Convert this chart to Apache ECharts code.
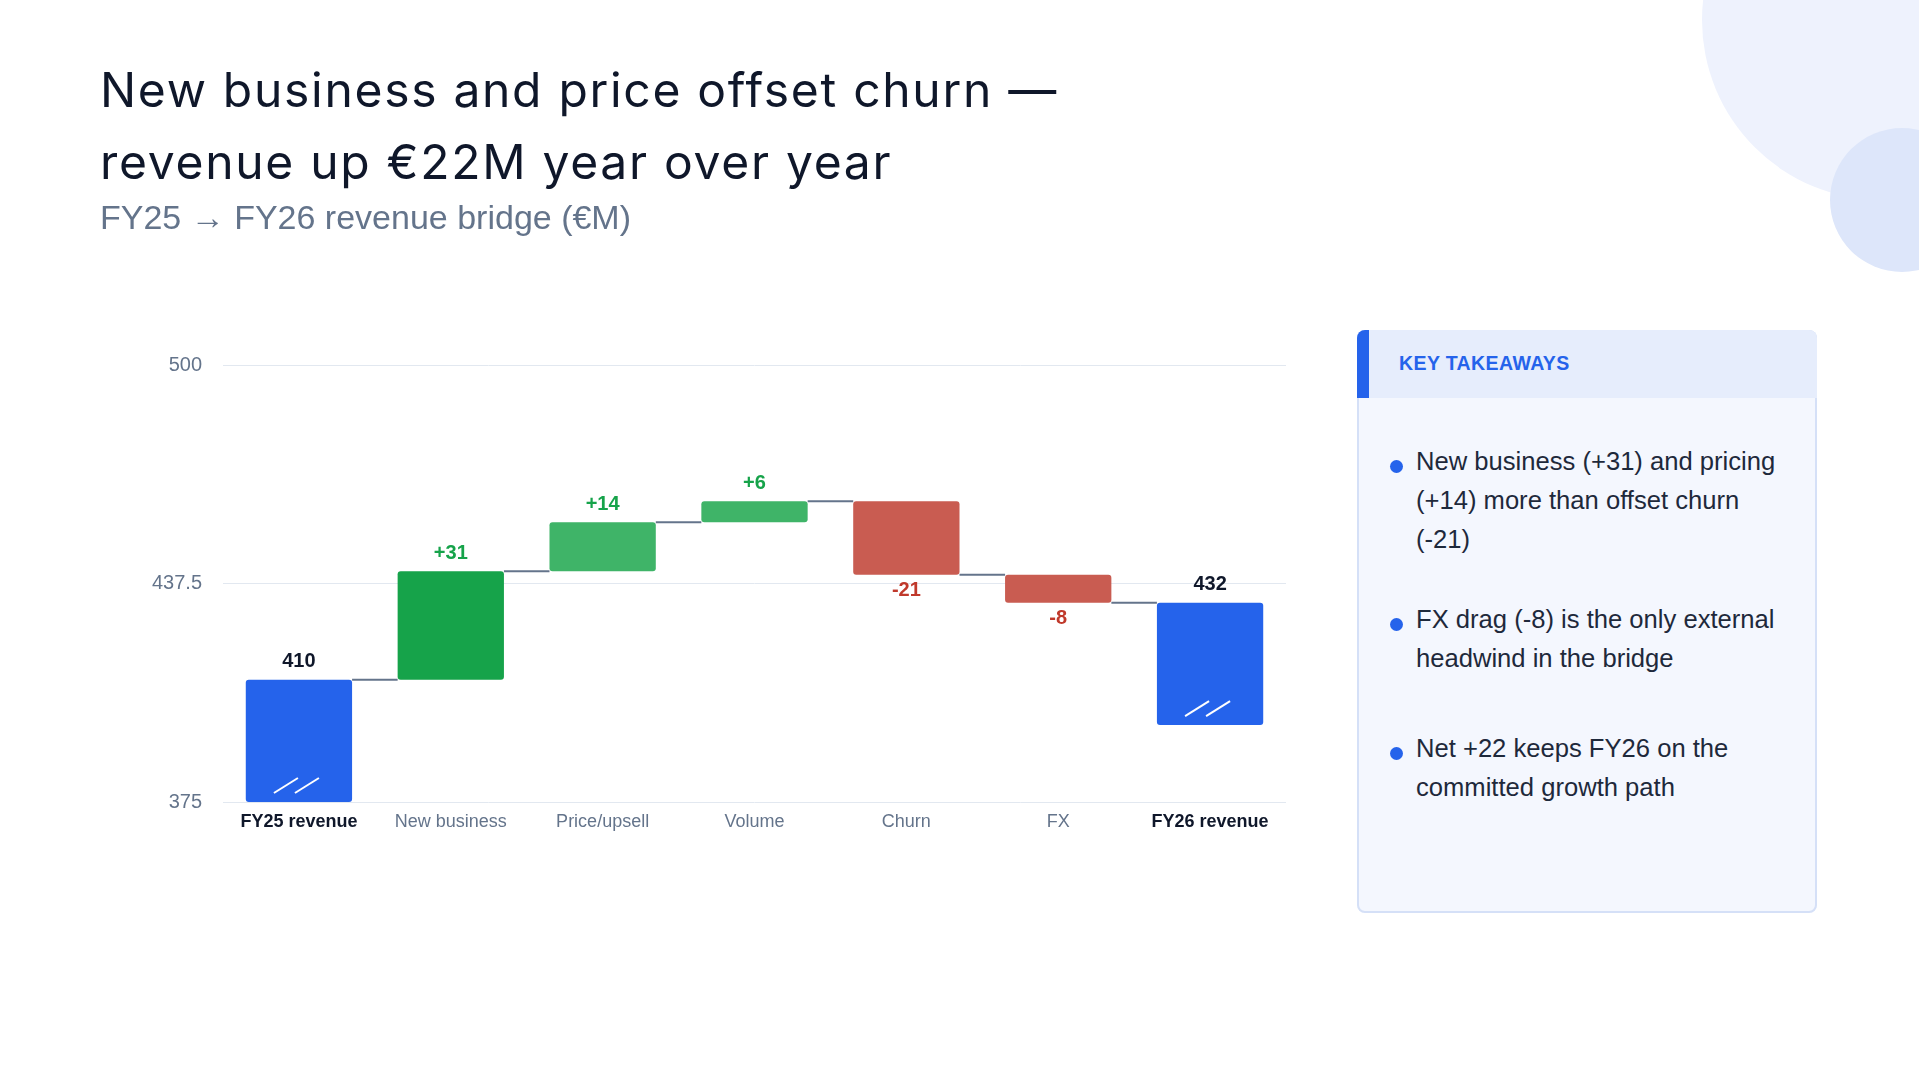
<!DOCTYPE html>
<html>
<head>
<meta charset="utf-8">
<title>FY25 → FY26 revenue bridge</title>
<script src="https://cdn.jsdelivr.net/npm/echarts@6/dist/echarts.min.js"></script>
<style>
    html, body { margin: 0; padding: 0; background: #ffffff; }
    body { width: 1919px; height: 1080px; position: relative; overflow: hidden; font-family: "Liberation Sans", Arial, sans-serif; }
    .circle { position: absolute; border-radius: 50%; }
    #chart { position: absolute; left: 0; top: 0; width: 1919px; height: 1080px; }
    .title { position: absolute; left: 100px; top: 54px; font-family: Inter, "Open Sans", sans-serif; font-size: 48px; line-height: 72px; color: #0f172a; font-weight: 400; letter-spacing: 1.7px; white-space: nowrap; }
    .subtitle { position: absolute; left: 100px; top: 197px; font-size: 34px; line-height: 40px; color: #64748b; white-space: nowrap; }
    .panel { position: absolute; left: 1357px; top: 330px; width: 460px; height: 583px; border-radius: 8px; overflow: hidden; background: #f4f7fe; box-shadow: inset 0 0 0 2px #d5e0f7; }
    .panel .head { height: 68px; box-sizing: border-box; background: #e6edfc; border-left: 12px solid #2563eb; padding-left: 30px; line-height: 66px; color: #2563eb; font-weight: bold; font-size: 19.5px; letter-spacing: 0.4px; }
    .item { position: absolute; left: 59px; font-size: 25.6px; line-height: 39px; color: #1e293b; white-space: nowrap; }
    .dot { position: absolute; left: -26px; top: 18px; width: 13px; height: 13px; border-radius: 50%; background: #2563eb; }
</style>
</head>
<body>
<div class="circle" style="left:1702px; top:-160px; width:360px; height:360px; background:#eef2fd;"></div>
<div class="circle" style="left:1830px; top:128px; width:144px; height:144px; background:#dde6fa;"></div>

<div id="chart"></div>

<div class="title">New business and price offset churn —<br>revenue up €22M year over year</div>
<div class="subtitle">FY25 → FY26 revenue bridge (€M)</div>

<div class="panel">
    <div class="head">KEY TAKEAWAYS</div>
    <div class="item" style="top:112px;"><span class="dot"></span>New business (+31) and pricing<br>(+14) more than offset churn<br>(-21)</div>
    <div class="item" style="top:270px;"><span class="dot"></span>FX drag (-8) is the only external<br>headwind in the bridge</div>
    <div class="item" style="top:399px;"><span class="dot"></span>Net +22 keeps FY26 on the<br>committed growth path</div>
</div>

<script>
// bridge data (EUR M)
var categories = ['FY25 revenue', 'New business', 'Price/upsell', 'Volume', 'Churn', 'FX', 'FY26 revenue'];
var startTotal = 410;
var deltas = [31, 14, 6, -21, -8];
var endTotal = 432;
// where the two total bars stop at the bottom (axis is broken)
var totalFloors = [375, 397];
var yTicks = [375, 437.5, 500];

var barColors = ['#2563eb', '#16a34a', '#3fb468', '#3fb468', '#c95c51', '#c95c51', '#2563eb'];
var upText = '#16a34a', downText = '#c0392b', totalText = '#0f172a';

// build invisible base + visible part of every bar
var baseData = [], barData = [], connectors = [], breaks = [];
var level = startTotal;

baseData.push(totalFloors[0]);
barData.push(makeItem(startTotal - totalFloors[0], 0, String(startTotal), 'top', totalText));
breaks.push([0, totalFloors[0]]);
connectors.push([0, level]);

for (var i = 0; i < deltas.length; i++) {
    var d = deltas[i];
    if (d >= 0) {
        baseData.push(level);
        barData.push(makeItem(d, i + 1, '+' + d, 'top', upText));
    } else {
        baseData.push(level + d);
        barData.push(makeItem(-d, i + 1, String(d), 'bottom', downText));
    }
    level += d;
    connectors.push([i + 1, level]);
}

baseData.push(totalFloors[1]);
barData.push(makeItem(endTotal - totalFloors[1], categories.length - 1, String(endTotal), 'top', totalText));
breaks.push([categories.length - 1, totalFloors[1]]);

function makeItem(value, idx, text, pos, color) {
    return {
        value: value,
        itemStyle: { color: barColors[idx], borderRadius: 3 },
        label: {
            show: true,
            position: pos,
            distance: pos === 'top' ? 8 : 6,
            formatter: text,
            color: color,
            fontSize: 20,
            fontWeight: 'bold'
        }
    };
}

var chart = echarts.init(document.getElementById('chart'));
chart.setOption({
    animation: false,
    textStyle: { fontFamily: '"Liberation Sans", Arial, sans-serif' },
    grid: { left: 223, right: 633, top: 365, bottom: 278 },
    xAxis: {
        type: 'category',
        data: categories,
        axisTick: { show: false },
        axisLine: { show: false },
        axisLabel: {
            interval: 0,
            margin: 11,
            fontSize: 18,
            color: '#64748b',
            formatter: function (v, idx) {
                if (idx === 0 || idx === categories.length - 1) {
                    return '{t|' + v + '}';
                }
                return v;
            },
            rich: {
                t: { fontSize: 18, fontWeight: 'bold', color: '#0f172a' }
            }
        }
    },
    yAxis: {
        type: 'value',
        min: yTicks[0],
        max: yTicks[yTicks.length - 1],
        interval: yTicks[1] - yTicks[0],
        axisLine: { show: false },
        axisTick: { show: false },
        axisLabel: { fontSize: 20, color: '#64748b', margin: 21 },
        splitLine: { lineStyle: { color: '#e2e8f0', width: 1 } }
    },
    series: [
        {
            name: 'base',
            type: 'bar',
            stack: 'wf',
            silent: true,
            barWidth: '70%',
            itemStyle: { color: 'transparent' },
            data: baseData
        },
        {
            name: 'bridge',
            type: 'bar',
            stack: 'wf',
            barWidth: '70%',
            data: barData
        },
        {
            // connector lines between bars
            name: 'connectors',
            type: 'custom',
            silent: true,
            z: 3,
            encode: { x: 0, y: 1 },
            data: connectors,
            renderItem: function (params, api) {
                var p = api.coord([api.value(0), api.value(1)]);
                var band = api.size([1, 0])[0];
                var half = band * 0.35;
                return {
                    type: 'line',
                    shape: { x1: p[0] + half, y1: p[1], x2: p[0] + band - half, y2: p[1] },
                    style: { stroke: '#64748b', lineWidth: 2 }
                };
            }
        },
        {
            // axis-break slashes at the foot of the total bars
            name: 'breaks',
            type: 'custom',
            silent: true,
            z: 5,
            encode: { x: 0, y: 1 },
            data: breaks,
            renderItem: function (params, api) {
                var p = api.coord([api.value(0), api.value(1)]);
                var st = { stroke: '#ffffff', lineWidth: 2 };
                return {
                    type: 'group',
                    children: [
                        { type: 'line', shape: { x1: p[0] - 25, y1: p[1] - 9, x2: p[0] - 1, y2: p[1] - 24 }, style: st },
                        { type: 'line', shape: { x1: p[0] - 4, y1: p[1] - 9, x2: p[0] + 20, y2: p[1] - 24 }, style: st }
                    ]
                };
            }
        }
    ]
});
</script>
</body>
</html>
